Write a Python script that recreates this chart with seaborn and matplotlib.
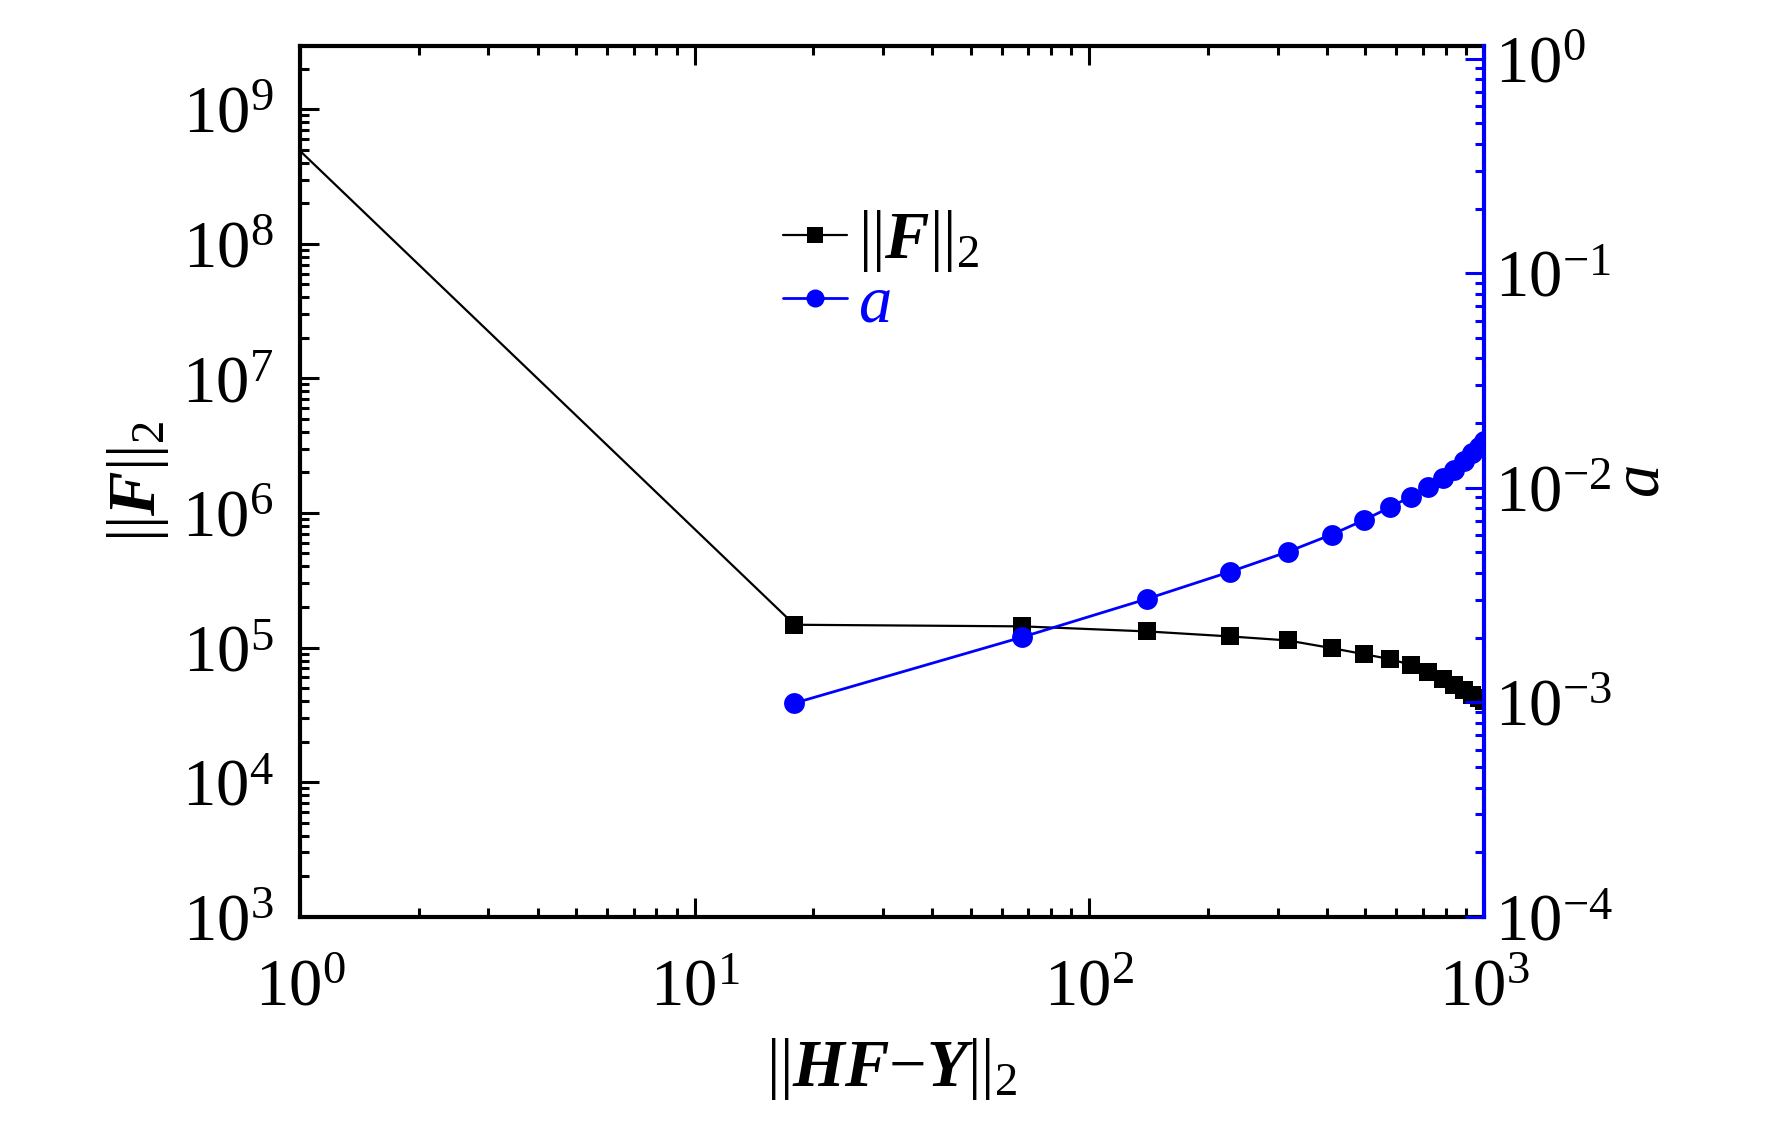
import numpy as np
import pandas as pd
import matplotlib
matplotlib.use("Agg")
import matplotlib.pyplot as plt
from matplotlib.lines import Line2D
from matplotlib.ticker import LogLocator, FixedLocator, LogFormatterMathtext, NullFormatter
import seaborn as sns

# ---- data ----
residual_norm = [1.0, 17.9, 67.6, 140, 227, 318, 411, 496, 578, 652, 720, 785, 840, 890, 935, 970, 1000]
F_norm = [4.9e8, 1.476e5, 1.436e5, 1.317e5, 1.209e5, 1.129e5, 9.9e4, 8.93e4, 8.2e4, 7.44e4,
          6.56e4, 5.85e4, 5.3e4, 4.8e4, 4.45e4, 4.2e4, 4.0e4]
a_residual = residual_norm[1:]
a_values = [0.00099, 0.00201, 0.00303, 0.00405, 0.00502, 0.00604, 0.00705, 0.0081, 0.00909,
            0.0101, 0.0111, 0.0121, 0.0133, 0.0145, 0.0155, 0.0165]

x_major = [1, 10, 100, 1000]
yF_major = [1e3, 1e4, 1e5, 1e6, 1e7, 1e8, 1e9]
ya_major = [1e-4, 1e-3, 1e-2, 1e-1, 1e0]

xlabel = r'$||\mathbfit{HF}{-}\mathbfit{Y}||_2$'
ylabel_left = r'$||\mathbfit{F}||_2$'
ylabel_right = r'$\mathit{a}$'
legend_labels = [r'$||\mathbfit{F}||_2$', r'$\mathit{a}$']

sns.set_style("white")
plt.rcParams['font.family'] = ['Liberation Serif', 'DejaVu Serif']
plt.rcParams['mathtext.fontset'] = 'custom'
plt.rcParams['mathtext.rm'] = 'Liberation Serif'
plt.rcParams['mathtext.it'] = 'Liberation Serif:italic'
plt.rcParams['mathtext.bf'] = 'Liberation Serif:bold'
plt.rcParams['mathtext.bfit'] = 'Liberation Serif:italic:bold'
plt.rcParams['axes.unicode_minus'] = True
for key in ['text.color', 'axes.labelcolor', 'xtick.color', 'ytick.color', 'axes.edgecolor']:
    plt.rcParams[key] = 'black'

BLUE = '#0000FF'
FS = 48

fig = plt.figure(figsize=(17.72, 11.22), dpi=100)
ax = fig.add_axes([300/1772, 1-916.7/1122, (1484-300)/1772, (916.7-45.7)/1122])
ax2 = ax.twinx()

df_F = pd.DataFrame({'x': residual_norm, 'F': F_norm})
df_a = pd.DataFrame({'x': a_residual, 'a': a_values})

sns.lineplot(data=df_F, x='x', y='F', ax=ax, color='black', linewidth=1.6,
             marker='s', markersize=13, markeredgewidth=0,
             markevery=list(range(1, len(residual_norm))), sort=False, clip_on=True)
sns.lineplot(data=df_a, x='x', y='a', ax=ax2, color=BLUE, linewidth=2.0,
             marker='o', markersize=15, markeredgewidth=0, sort=False, clip_on=True)

ax.set_xscale('log')
ax.set_yscale('log')
ax2.set_yscale('log')
ax.set_xlim(1, 1000)
ax.set_ylim(1e3, 2.96e9)
ax2.set_ylim(1e-4, 1.148)

for a_ in (ax, ax2):
    a_.grid(False)

ax.xaxis.set_major_locator(FixedLocator(x_major))
ax.xaxis.set_minor_locator(LogLocator(base=10, subs=np.arange(2, 10), numticks=10))
ax.xaxis.set_major_formatter(LogFormatterMathtext())
ax.xaxis.set_minor_formatter(NullFormatter())
ax.yaxis.set_major_locator(FixedLocator(yF_major))
ax.yaxis.set_minor_locator(LogLocator(base=10, subs=np.arange(2, 10), numticks=20))
ax.yaxis.set_major_formatter(LogFormatterMathtext())
ax.yaxis.set_minor_formatter(NullFormatter())
ax2.yaxis.set_major_locator(FixedLocator(ya_major))
ax2.yaxis.set_minor_locator(LogLocator(base=10, subs=np.arange(2, 10), numticks=20))
ax2.yaxis.set_major_formatter(LogFormatterMathtext())
ax2.yaxis.set_minor_formatter(NullFormatter())

ax.tick_params(axis='x', which='both', direction='in', top=True, bottom=True,
               labelsize=FS, pad=30, colors='black')
ax.tick_params(axis='y', which='both', direction='in', left=True, right=False,
               labelsize=FS, pad=19, colors='black')
ax.tick_params(which='major', length=14, width=2.2)
ax.tick_params(which='minor', length=6.5, width=2.2)
ax2.tick_params(axis='y', which='both', direction='in', right=True, left=False,
                labelsize=FS, pad=8, color=BLUE, labelcolor='black')
ax2.tick_params(which='major', length=14, width=2.2)
ax2.tick_params(which='minor', length=6.5, width=2.2)

for side in ['left', 'bottom', 'top']:
    ax.spines[side].set_linewidth(3)
    ax.spines[side].set_color('black')
ax.spines['right'].set_visible(False)
for side in ['left', 'bottom', 'top']:
    ax2.spines[side].set_visible(False)
ax2.spines['right'].set_linewidth(3)
ax2.spines['right'].set_color(BLUE)

ax.set_xlabel(xlabel, fontsize=FS, labelpad=12, color='black')
ax.set_ylabel(ylabel_left, fontsize=FS, labelpad=8, color='black')
ax2.set_ylabel(ylabel_right, fontsize=FS, rotation=90, color='black')
ax2.yaxis.set_label_coords(1.108, 0.5)

handles = [Line2D([], [], color='black', linewidth=1.6, marker='s', markersize=12, markeredgewidth=0),
           Line2D([], [], color=BLUE, linewidth=2.0, marker='o', markersize=13, markeredgewidth=0)]
leg = fig.legend(handles, legend_labels, loc='upper left', bbox_to_anchor=(783/1772, 1-208/1122),
                 frameon=False, fontsize=FS, handlelength=0.96, handletextpad=0.17,
                 labelspacing=0.0, borderpad=0, borderaxespad=0, numpoints=1)
leg.get_texts()[0].set_color('black')
leg.get_texts()[1].set_color(BLUE)
if ax.get_legend() is not None:
    ax.get_legend().remove()
if ax2.get_legend() is not None:
    ax2.get_legend().remove()

fig.savefig('out.png', dpi=100)
